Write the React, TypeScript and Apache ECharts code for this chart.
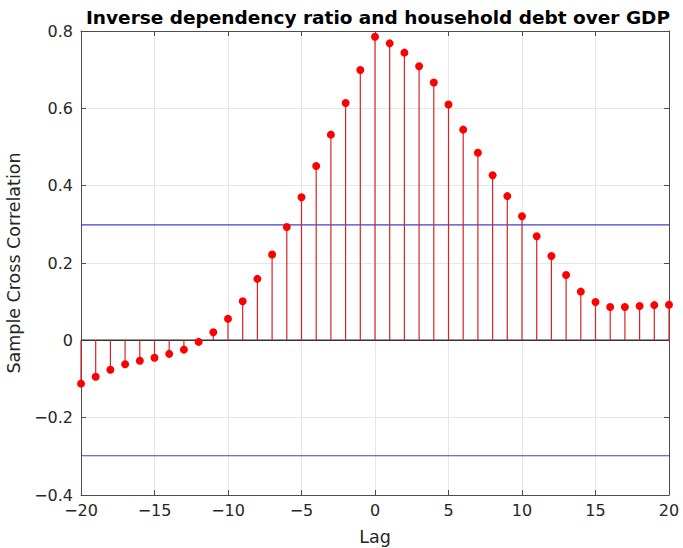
import React, { useEffect, useRef } from "react";
import * as echarts from "echarts";

const lags = [-20,-19,-18,-17,-16,-15,-14,-13,-12,-11,-10,-9,-8,-7,-6,-5,-4,-3,-2,-1,0,1,2,3,4,5,6,7,8,9,10,11,12,13,14,15,16,17,18,19,20];
const xcf = [-0.112,-0.094,-0.076,-0.062,-0.053,-0.045,-0.035,-0.024,-0.004,0.021,0.056,0.101,0.159,0.222,0.293,0.370,0.451,0.532,0.614,0.699,0.785,0.768,0.744,0.709,0.667,0.610,0.545,0.485,0.427,0.373,0.321,0.269,0.218,0.169,0.126,0.099,0.086,0.086,0.089,0.091,0.092];
const bound = 0.2985;

const FONT = "DejaVu Sans";

export default function App() {
  const ref = useRef<HTMLDivElement>(null);
  useEffect(() => {
    const chart = echarts.init(ref.current!, undefined, { renderer: "svg" });
    const pts = lags.map((l, i) => [l, xcf[i]]);
    const axisCommon = {
      axisLine: { show: true, onZero: false, lineStyle: { color: "#4d4d4d", width: 1 } },
      axisTick: { show: true, inside: true, length: 5, lineStyle: { color: "#4d4d4d" } },
    };
    const fmtY = (v: number) => {
      const s = (Math.round(v * 10) / 10).toString();
      return s.replace("-", "\u2212");
    };
    chart.setOption({
      animation: false,
      title: {
        text: "Inverse dependency ratio and household debt over GDP",
        left: 373,
        textAlign: "center",
        top: 3,
        textStyle: { fontFamily: FONT, fontWeight: "bold", fontSize: 18.5, color: "#000" },
      },
      grid: { left: 81, right: 14, top: 31, bottom: 53, containLabel: false, outerBoundsMode: "none" },
      xAxis: [
        {
          type: "value", min: -20, max: 20, interval: 5, position: "bottom",
          ...axisCommon,
          axisLabel: {
            fontFamily: FONT, fontSize: 16, color: "#262626", margin: 7,
            formatter: (v: number) => String(v).replace("-", "\u2212"),
          },
          splitLine: { show: true, lineStyle: { color: "#e6e6e6", width: 1 } },
          name: "Lag", nameLocation: "middle", nameGap: 33,
          nameTextStyle: { fontFamily: FONT, fontSize: 17.5, color: "#262626" },
        },
        {
          type: "value", min: -20, max: 20, interval: 5, position: "top",
          ...axisCommon, axisLabel: { show: false }, splitLine: { show: false },
        },
      ],
      yAxis: [
        {
          type: "value", min: -0.4, max: 0.8, interval: 0.2, position: "left",
          ...axisCommon,
          axisLabel: { fontFamily: FONT, fontSize: 16, color: "#262626", margin: 8, formatter: fmtY },
          splitLine: { show: true, lineStyle: { color: "#e6e6e6", width: 1 } },
          name: "Sample Cross Correlation", nameLocation: "middle", nameGap: 52,
          nameTextStyle: { fontFamily: FONT, fontSize: 17.5, color: "#262626" },
        },
        {
          type: "value", min: -0.4, max: 0.8, interval: 0.2, position: "right",
          ...axisCommon, axisLabel: { show: false }, splitLine: { show: false },
        },
      ],
      series: [
        {
          type: "line", data: [[-20, 0], [20, 0]], symbol: "none",
          lineStyle: { color: "#333", width: 1.5 }, silent: true, z: 1,
        },
        {
          type: "line", data: [[-20, bound], [20, bound]], symbol: "none",
          lineStyle: { color: "#4040c8", width: 1.2 }, silent: true, z: 1,
        },
        {
          type: "line", data: [[-20, -bound], [20, -bound]], symbol: "none",
          lineStyle: { color: "#4040c8", width: 1.2 }, silent: true, z: 1,
        },
        {
          type: "bar", data: pts, barWidth: 1.2,
          itemStyle: { color: "#d82424" }, silent: true, z: 2,
        },
        {
          type: "scatter", data: pts, symbol: "circle", symbolSize: 8,
          itemStyle: { color: "#ff0000", opacity: 1 }, silent: true, z: 3,
        },
      ],
    });
    return () => chart.dispose();
  }, []);
  return (
    <div
      ref={ref}
      style={{ position: "fixed", left: 0, top: 0, width: 683, height: 548, background: "#fff" }}
    />
  );
}
